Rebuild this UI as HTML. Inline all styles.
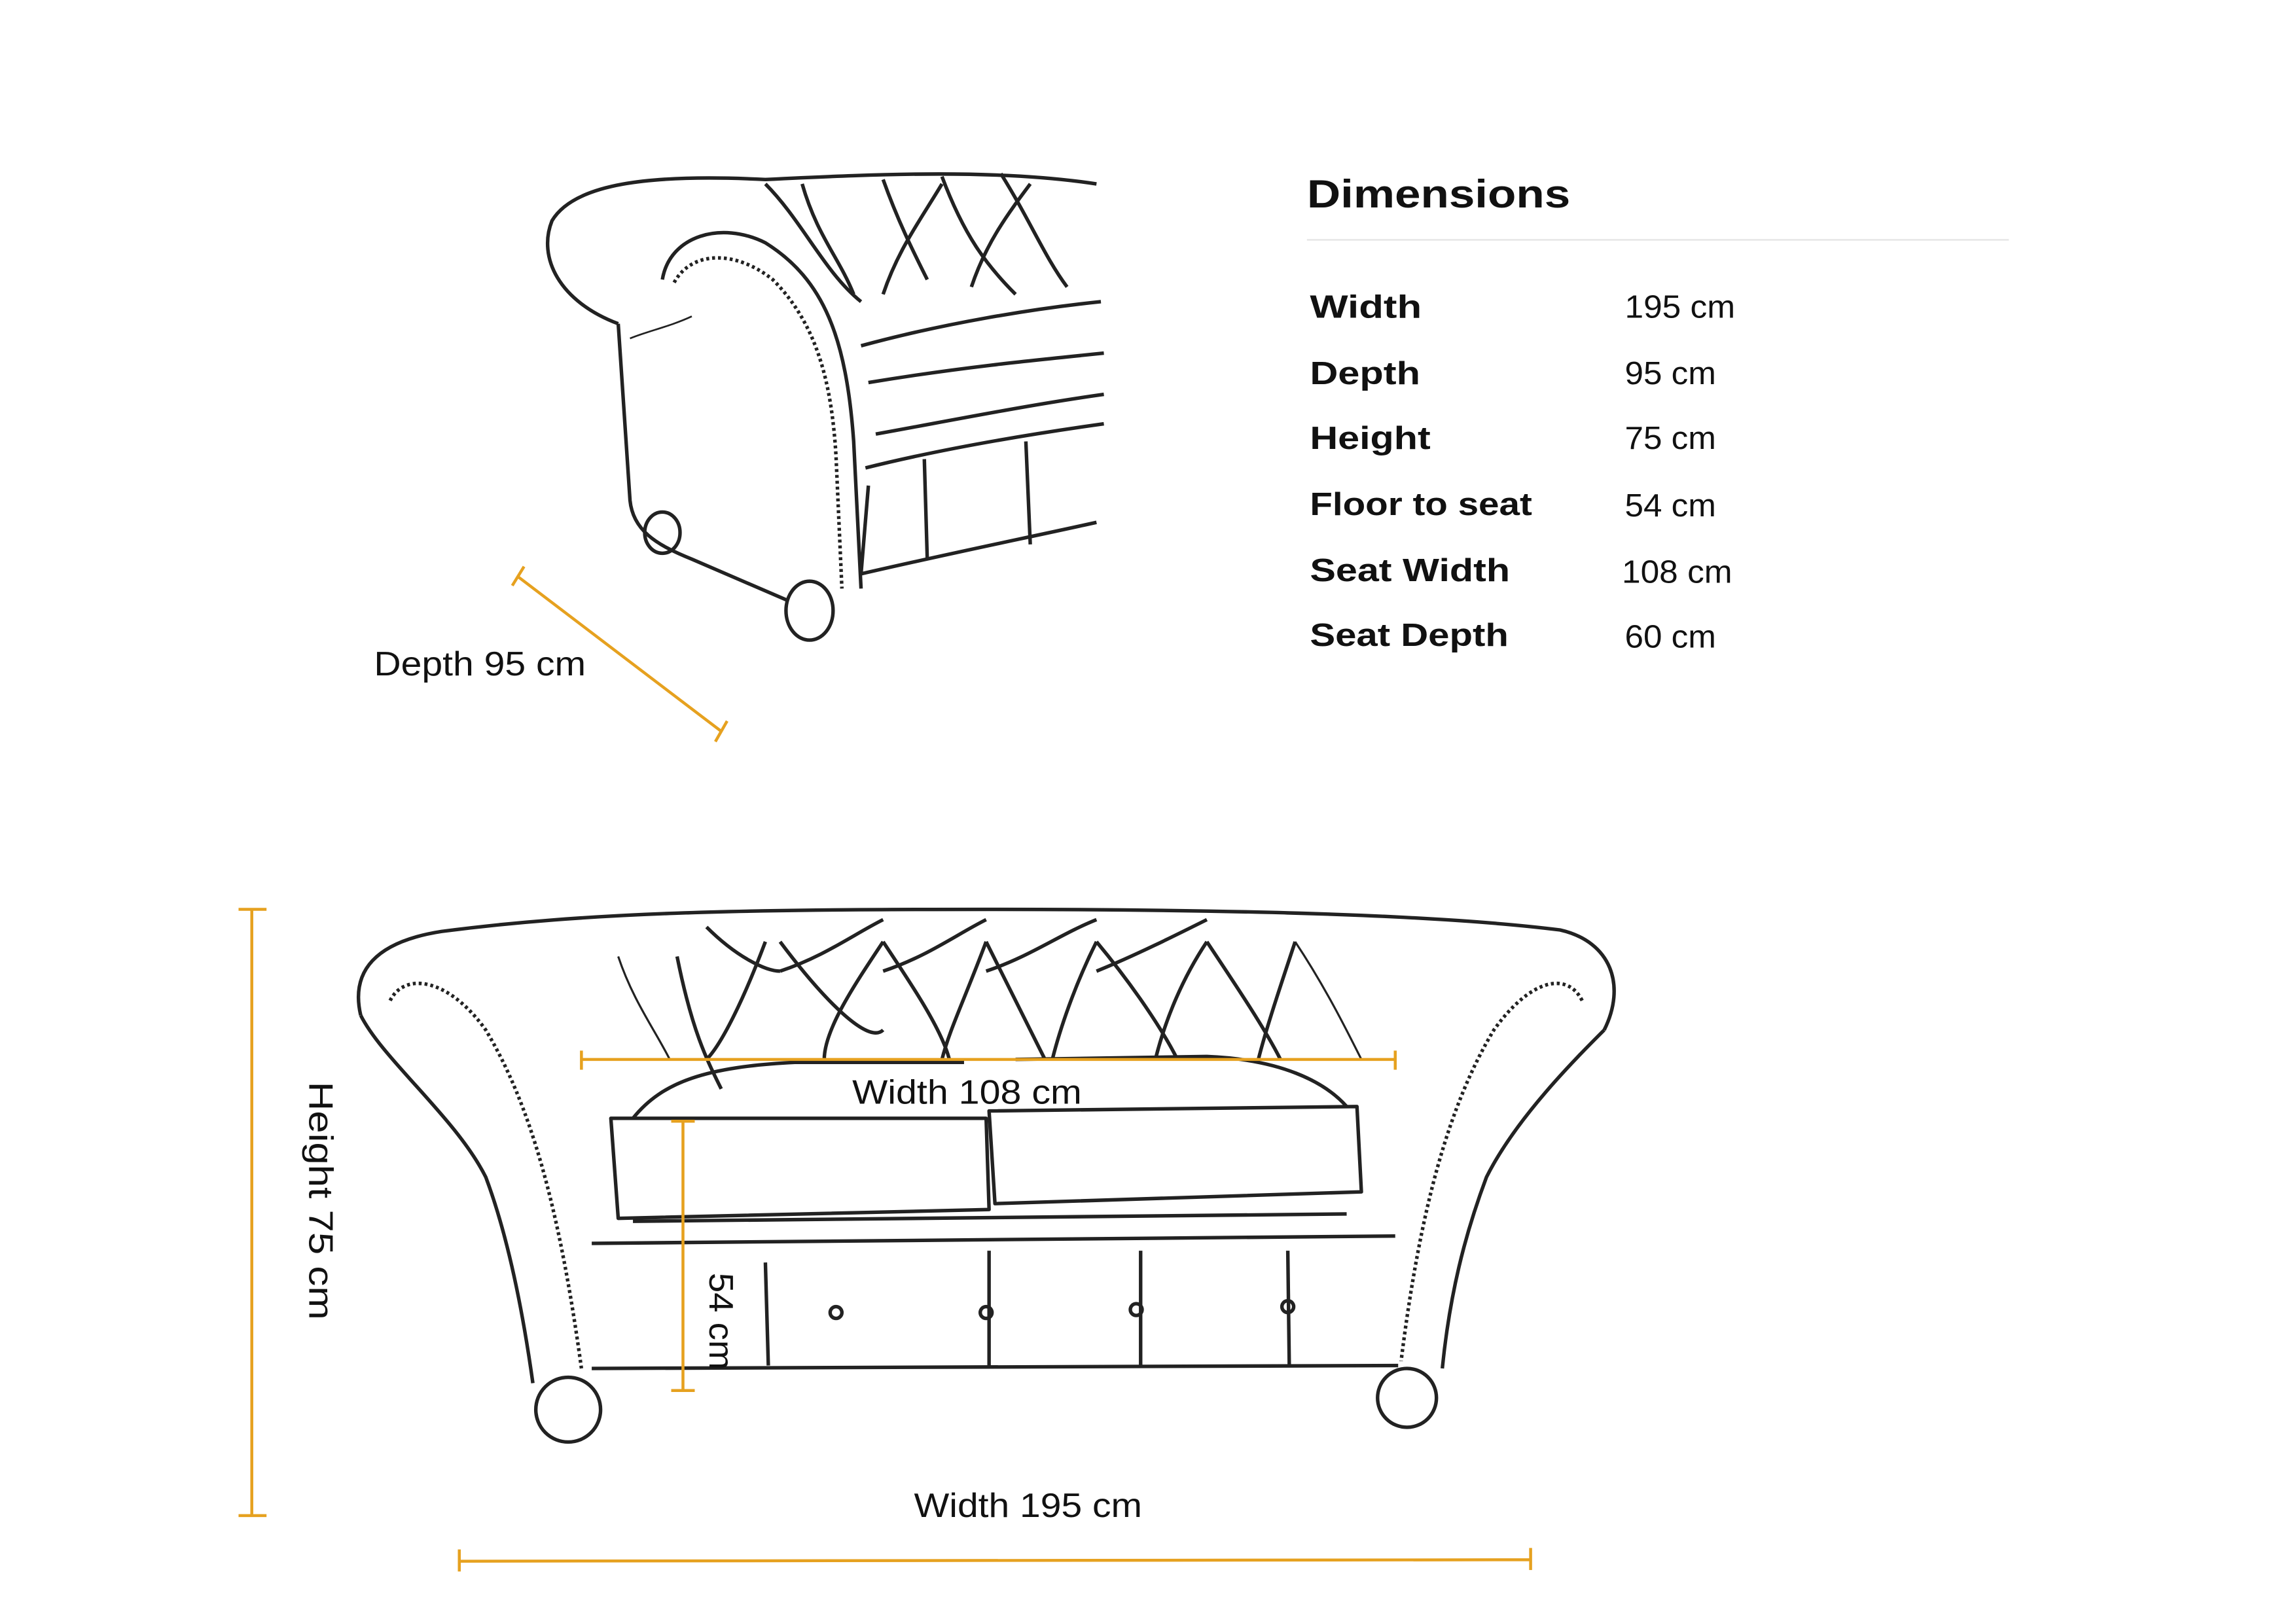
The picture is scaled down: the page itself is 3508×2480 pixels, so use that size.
<!DOCTYPE html>
<html><head><meta charset="utf-8"><style>
html,body{margin:0;padding:0;background:#fff}
svg{display:block}
text{font-family:"Liberation Sans",sans-serif}
</style></head><body>
<svg width="3508" height="2480" viewBox="0 0 1560 1103" xmlns="http://www.w3.org/2000/svg">
<rect width="1560" height="1103" fill="#fff"/>
<!-- Dimensions table -->
<text x="888" y="141" font-size="27" font-weight="bold" fill="#111" textLength="179" lengthAdjust="spacingAndGlyphs">Dimensions</text>
<line x1="888" y1="163" x2="1365" y2="163" stroke="#e3e3e3" stroke-width="1"/>
<g font-size="22" font-weight="bold" fill="#111">
<text x="890" y="216" textLength="76" lengthAdjust="spacingAndGlyphs">Width</text>
<text x="890" y="261" textLength="75" lengthAdjust="spacingAndGlyphs">Depth</text>
<text x="890" y="305" textLength="82" lengthAdjust="spacingAndGlyphs">Height</text>
<text x="890" y="350" textLength="151" lengthAdjust="spacingAndGlyphs">Floor to seat</text>
<text x="890" y="395" textLength="136" lengthAdjust="spacingAndGlyphs">Seat Width</text>
<text x="890" y="439" textLength="135" lengthAdjust="spacingAndGlyphs">Seat Depth</text>
</g>
<g font-size="22" fill="#111">
<text x="1104" y="216" textLength="75" lengthAdjust="spacingAndGlyphs">195 cm</text>
<text x="1104" y="261" textLength="62" lengthAdjust="spacingAndGlyphs">95 cm</text>
<text x="1104" y="305" textLength="62" lengthAdjust="spacingAndGlyphs">75 cm</text>
<text x="1104" y="351" textLength="62" lengthAdjust="spacingAndGlyphs">54 cm</text>
<text x="1102" y="396" textLength="75" lengthAdjust="spacingAndGlyphs">108 cm</text>
<text x="1104" y="440" textLength="62" lengthAdjust="spacingAndGlyphs">60 cm</text>
</g>

<!-- Top-left sofa sketch -->
<g fill="none" stroke="#222" stroke-width="2.4" stroke-linejoin="round">
<path d="M420 220 C380 205 365 175 375 150 C390 125 440 118 520 122 C600 118 680 115 745 125"/>
<path d="M420 220 L428 340 C430 360 445 370 470 380 L535 408"/>
<path d="M450 190 C455 160 490 150 520 165 C560 190 575 230 580 300 L585 400"/>
<path d="M458 192 C470 170 500 170 525 190 C555 220 565 260 568 310 L572 400" stroke-dasharray="2 2"/>
<path d="M520 125 C545 150 560 185 585 205"/>
<path d="M585 235 C640 220 700 210 748 205"/>
<path d="M590 260 C650 250 700 245 750 240"/>
<path d="M595 295 C650 285 700 275 750 268"/>
<path d="M588 318 C640 305 700 295 750 288"/>
<path d="M590 330 L585 390 C650 375 700 365 745 355"/>
<path d="M628 312 L630 380 M697 300 L700 370"/>
<path d="M545 125 C555 160 570 175 580 200 M600 122 C610 150 620 170 630 190 M640 120 C655 160 670 180 690 200 M680 118 C700 150 710 175 725 195"/>
<path d="M600 200 C610 170 625 150 640 125 M660 195 C670 165 685 145 700 125"/>
<path d="M428 230 C440 225 455 222 470 215" stroke-width="1.2"/>
<ellipse cx="450" cy="362" rx="12" ry="14"/>
<ellipse cx="550" cy="415" rx="16" ry="20"/>
</g>
<!-- Depth dimension -->
<g stroke="#e6a11f" stroke-width="2">
<line x1="352" y1="392" x2="490" y2="497"/>
<line x1="348" y1="398" x2="356" y2="385"/>
<line x1="486" y1="504" x2="494" y2="490"/>
</g>
<text x="254" y="459" font-size="23" fill="#111" textLength="144" lengthAdjust="spacingAndGlyphs">Depth 95 cm</text>

<!-- Front sofa sketch -->
<g fill="none" stroke="#222" stroke-width="2.4" stroke-linejoin="round">
<path d="M245 690 C238 660 255 640 300 633 C400 620 500 618 670 618 C850 618 980 622 1060 632 C1095 640 1105 670 1090 700"/>
<path d="M245 690 C260 720 310 760 330 800 C345 840 355 890 362 940"/>
<path d="M265 680 C275 660 305 665 330 700 C360 750 380 820 395 930" stroke-dasharray="2 2"/>
<path d="M1090 700 C1070 720 1030 760 1010 800 C995 840 985 880 980 930"/>
<path d="M1075 680 C1065 660 1040 665 1015 700 C985 750 965 820 952 925" stroke-dasharray="2 2"/>
<path d="M415 760 L670 760 L672 822 L420 828 Z"/>
<path d="M672 755 L922 752 L925 810 L676 818 Z"/>
<path d="M430 760 C450 735 480 725 540 722 L655 722 M690 720 L820 718 C870 720 900 735 915 752"/>
<path d="M402 845 L948 840"/>
<path d="M402 930 L950 928"/>
<path d="M430 830 L915 825"/>
<path d="M520 858 L522 928 M672 850 L672 928 M775 850 L775 928 M875 850 L876 928"/>
<path d="M460 650 C470 700 480 720 490 740 M520 640 C505 680 490 710 480 720 M530 640 C560 680 590 710 600 700 M600 640 C580 670 560 700 560 720"/>
<path d="M600 640 C620 670 640 700 645 720 M670 640 C655 680 645 700 640 720 M670 640 C690 680 700 700 710 720 M745 640 C730 670 720 700 715 720"/>
<path d="M745 640 C770 670 790 700 800 720 M820 640 C800 670 790 700 785 720 M820 640 C840 670 860 700 870 720 M880 640 C870 670 860 700 855 720"/>
<path d="M480 630 C500 650 520 660 530 660 M530 660 C560 650 580 635 600 625 M600 660 C630 650 650 635 670 625 M670 660 C700 650 720 635 745 625 M745 660 C770 650 800 635 820 625"/>
<path d="M880 640 C900 670 915 700 925 720 M420 650 C430 680 445 700 455 720" stroke-width="1.4"/>
<ellipse cx="386" cy="958" rx="22" ry="22"/>
<ellipse cx="956" cy="950" rx="20" ry="20"/>
<circle cx="568" cy="892" r="4"/><circle cx="670" cy="892" r="4"/><circle cx="772" cy="890" r="4"/><circle cx="875" cy="888" r="4"/>
</g>

<!-- Dimension lines front -->
<g stroke="#e6a11f" stroke-width="2">
<line x1="171" y1="618" x2="171" y2="1030"/>
<line x1="162" y1="618" x2="181" y2="618"/>
<line x1="162" y1="1030" x2="181" y2="1030"/>
<line x1="312" y1="1061" x2="1040" y2="1060"/>
<line x1="312" y1="1053" x2="312" y2="1068"/>
<line x1="1040" y1="1052" x2="1040" y2="1067"/>
<line x1="395" y1="720" x2="948" y2="720"/>
<line x1="395" y1="714" x2="395" y2="727"/>
<line x1="948" y1="714" x2="948" y2="727"/>
<line x1="464" y1="762" x2="464" y2="945"/>
<line x1="456" y1="762" x2="472" y2="762"/>
<line x1="456" y1="945" x2="472" y2="945"/>
</g>
<text x="579" y="750" font-size="23" fill="#111" textLength="156" lengthAdjust="spacingAndGlyphs">Width 108 cm</text>
<text x="621" y="1031" font-size="23" fill="#111" textLength="155" lengthAdjust="spacingAndGlyphs">Width 195 cm</text>
<text transform="translate(210 735) rotate(90)" font-size="23" fill="#111" textLength="162" lengthAdjust="spacingAndGlyphs">Height 75 cm</text>
<text transform="translate(482 865) rotate(90)" font-size="23" fill="#111" textLength="66" lengthAdjust="spacingAndGlyphs">54 cm</text>
</svg>
</body></html>
